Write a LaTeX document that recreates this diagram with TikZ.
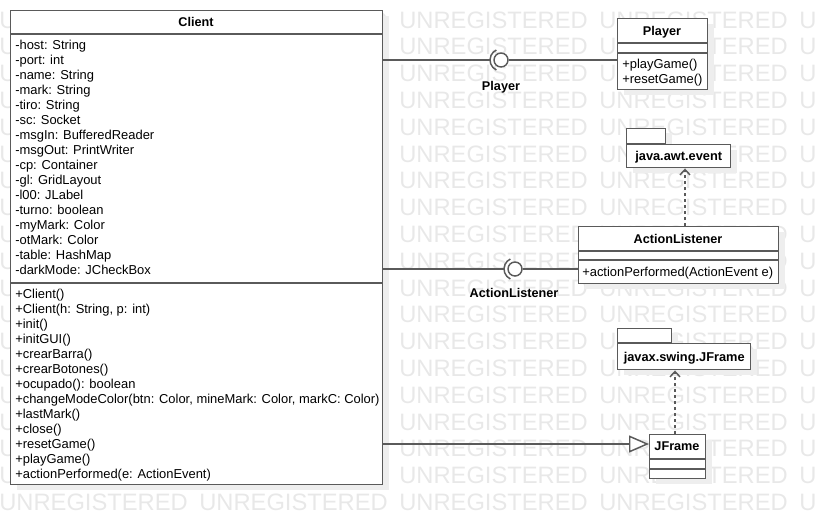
\documentclass[tikz,border=0pt]{standalone}
\usepackage{fontspec}
\setmainfont{Liberation Sans}
\usetikzlibrary{arrows.meta,shadows}
\definecolor{umlline}{HTML}{5A5A5A}
\definecolor{wmgray}{HTML}{E8E8E8}
\definecolor{shadegray}{HTML}{EEEEEE}

\begin{document}
\begin{tikzpicture}[x=0.75pt,y=-0.75pt,
  every node/.style={inner sep=0pt,font=\fontsize{9.7}{11}\selectfont},
  wmark/.style={anchor=west,text=wmgray,font=\fontsize{17.8}{18}\selectfont},
  classbox/.style={draw=umlline,line width=1.1pt,fill=white,anchor=north west,
    drop shadow={shadow xshift=4.5pt,shadow yshift=-3.75pt,fill=shadegray,opacity=1}},
  divider/.style={draw=umlline,line width=1.1pt},
  hdr/.style={font=\fontsize{9.5}{11}\selectfont\bfseries,text height=6.8pt,text depth=0pt},
  pkgname/.style={font=\fontsize{9.6}{11}\selectfont\bfseries,text height=6.8pt,text depth=0pt},
  member/.style={anchor=west,text height=6.9pt,text depth=0pt},
  ball/.style={circle,draw=umlline,line width=1.1pt,fill=white,minimum size=10.5pt},
  assoc/.style={draw=umlline,line width=1.1pt},
  dep/.style={draw=umlline,line width=1.1pt,dash pattern=on 2.25pt off 2.25pt,
    -{Straight Barb[length=4pt,width=7.5pt]}},
  gen/.style={draw=umlline,line width=1.1pt,
    -{Triangle[length=15pt,width=12.75pt,fill=white]}}]

  \useasboundingbox (0,0) rectangle (818,525);

  % watermark
  \foreach \r in {0,...,18}
    \foreach \c in {0,...,4}
      \node[wmark] (wm-\r-\c) at ({200*\c-1},{20+26.8*\r}) {UNREGISTERED};

  % Client
  \node[classbox,minimum width=279pt,minimum height=355.5pt] (client) at (10,10) {};
  \node[hdr] (clientname) at (196,22) {Client};
  \draw[divider] (client.west |- 0,34) -- (client.east |- 0,34);
  \draw[divider] (client.west |- 0,283) -- (client.east |- 0,283);
  \foreach \t [count=\i] in {-host: String, -port: int, -name: String, -mark: String,
      -tiro: String, -sc: Socket, -msgIn: BufferedReader, -msgOut: PrintWriter,
      -cp: Container, -gl: GridLayout, -l00: JLabel, -turno: boolean,
      -myMark: Color, -otMark: Color, -table: HashMap, -darkMode: JCheckBox}
    \node[member] (cattr\i) at (15,{30+15*\i}) {\t};
  \foreach \t [count=\i] in {+Client(), {+Client(h: String, p: int)}, +init(), +initGUI(),
      +crearBarra(), +crearBotones(), +ocupado(): boolean,
      {+changeModeColor(btn: Color, mineMark: Color, markC: Color)},
      +lastMark(), +close(), +resetGame(), +playGame(),
      +actionPerformed(e: ActionEvent)}
    \node[member] (cop\i) at (15,{279+15*\i}) {\t};

  % Player
  \node[classbox,minimum width=67.5pt,minimum height=53.25pt] (player) at (617,18) {};
  \node[hdr] (playername) at (662,30.5) {Player};
  \draw[divider] (player.west |- 0,43) -- (player.east |- 0,43);
  \draw[divider] (player.west |- 0,53) -- (player.east |- 0,53);
  \node[member] (pop1) at (622,63.5) {+playGame()};
  \node[member] (pop2) at (622,78.5) {+resetGame()};

  % java.awt.event
  \node[classbox,anchor=south west,minimum width=29.25pt,minimum height=11.25pt] (awttab) at (626,144) {};
  \node[classbox,pkgname,minimum width=78pt,minimum height=17.25pt] (awt) at (626,144) {java.awt.event};

  % ActionListener
  \node[classbox,minimum width=150pt,minimum height=42.75pt] (alisten) at (578,226) {};
  \node[hdr] (alistenname) at (678,238.5) {ActionListener};
  \draw[divider] (alisten.west |- 0,251) -- (alisten.east |- 0,251);
  \draw[divider] (alisten.west |- 0,260) -- (alisten.east |- 0,260);
  \node[member] (aop1) at (582,272) {+actionPerformed(ActionEvent e)};

  % javax.swing.JFrame
  \node[classbox,anchor=south west,minimum width=40.5pt,minimum height=10.5pt] (swingtab) at (617,343) {};
  \node[classbox,pkgname,minimum width=99.75pt,minimum height=19.5pt] (swing) at (617,343) {javax.swing.JFrame};

  % JFrame
  \node[classbox,minimum width=42pt,minimum height=33pt] (jframe) at (649,434) {};
  \node[hdr] (jframename) at (677,446) {JFrame};
  \draw[divider] (jframe.west |- 0,459) -- (jframe.east |- 0,459);
  \draw[divider] (jframe.west |- 0,469) -- (jframe.east |- 0,469);

  % Player interface
  \node[ball] (pball) at (501,60) {};
  \coordinate (psock) at (490,60);
  \draw[assoc] ([shift={(115:11)}]pball.center) arc[start angle=115,end angle=245,radius=11];
  \draw[assoc] (client.east |- psock) -- (psock);
  \draw[assoc] (pball.east) -- (pball.east -| player.west);
  \node[hdr] (plabel) at (501,86) {Player};

  % ActionListener interface
  \node[ball] (aball) at (515,269) {};
  \coordinate (asock) at (504,269);
  \draw[assoc] ([shift={(115:11)}]aball.center) arc[start angle=115,end angle=245,radius=11];
  \draw[assoc] (client.east |- asock) -- (asock);
  \draw[assoc] (aball.east) -- (aball.east -| alisten.west);
  \node[hdr] (alabel) at (514,293) {ActionListener};

  % dependencies and generalization
  \draw[dep] (alisten.north -| 685,0) -- (awt.south -| 685,0);
  \draw[dep] (jframe.north -| 675,0) -- (swing.south -| 675,0);
  \draw[gen] (client.east |- 0,444) -- (jframe.west |- 0,444);
\end{tikzpicture}
\end{document}
